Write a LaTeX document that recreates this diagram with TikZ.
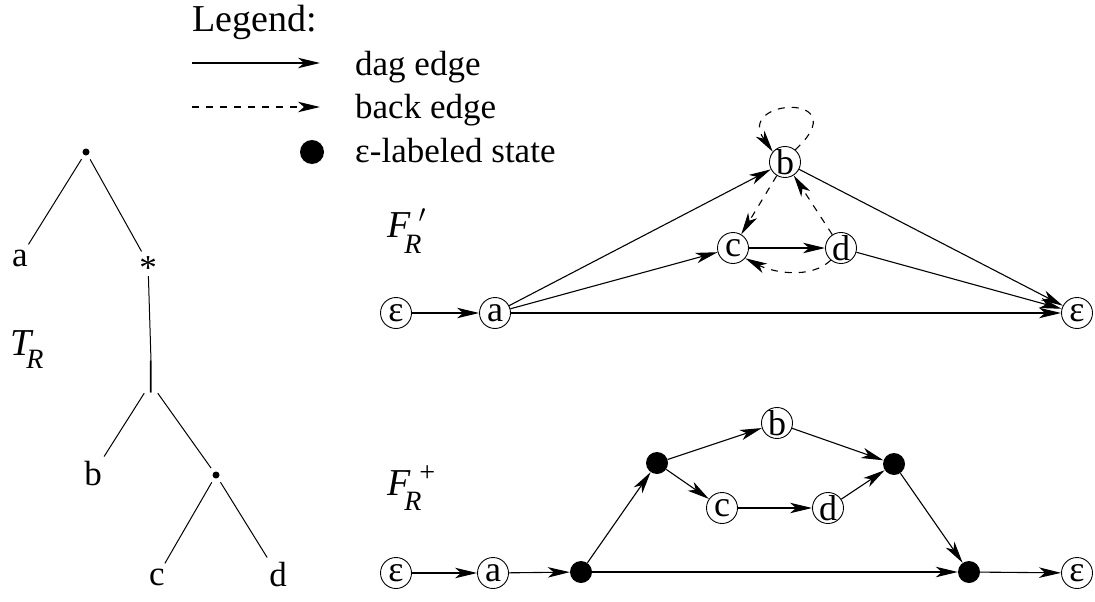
\documentclass[tikz,border=0pt]{standalone}
\usepackage{fontspec}
\setmainfont{Liberation Serif}
\usetikzlibrary{arrows.meta}
\newcommand\subfs{\fontsize{28}{30}\selectfont}
\begin{document}
\begin{tikzpicture}[x=1pt,y=1pt,
  every node/.style={font=\fontsize{35}{38}\selectfont},
  st/.style={circle,draw,line width=0.9pt,minimum size=31pt,inner sep=0pt,font=\fontsize{36}{38}\selectfont},
  epsst/.style={circle,fill=black,minimum size=22pt,inner sep=0pt},
  dag/.style={-{Stealth[length=22pt,width=10.5pt,inset=6pt]},line width=1.1pt},
  back/.style={dag,dash pattern=on 7pt off 7pt},
  tl/.style={inner sep=5pt},
  tdot/.style={circle,fill=black,minimum size=7pt,inner sep=0pt,outer sep=5pt},
  tedge/.style={line width=1pt},
  lab/.style={font=\fontsize{38}{40}\selectfont\itshape,inner sep=0pt,anchor=base west},
  txt/.style={inner sep=0pt,anchor=base west}]
\useasboundingbox (0,0) rectangle (1095,-602);

% Legend
\node[txt,font=\fontsize{38}{40}\selectfont] (leg) at (192,-32) {Legend:};
\coordinate (l1a) at (192,-63); \coordinate (l1b) at (320,-63);
\draw[dag] (l1a) -- (l1b);
\node[txt] (t1) at (355,-75) {dag edge};
\coordinate (l2a) at (192,-107); \coordinate (l2b) at (320,-107);
\draw[back] (l2a) -- (l2b);
\node[txt] (t2) at (355,-118) {back edge};
\node[circle,fill=black,minimum size=24pt,inner sep=0pt] (ld) at (312,-152) {};
\node[txt] (t3) at (355,-162) {ε-labeled state};

% Tree
\node[tdot] (root) at (86,-152) {};
\node[tl] (ta) at (20,-258) {a};
\node[circle,minimum size=26pt,inner sep=0pt] (star) at (148,-263) {\raisebox{-16pt}[0pt][0pt]{*}};
\node[inner ysep=0pt,inner xsep=3pt] (bar) at (151,-377) {|};
\node[tl] (tb) at (93,-474) {b};
\node[tdot] (dot2) at (216,-475) {};
\node[tl] (tc) at (157,-577) {c};
\node[tl] (td) at (278,-575) {d};
\draw[tedge] (root) -- (ta);
\draw[tedge] (root) -- (star);
\draw[tedge] (star) -- (bar.north);
\draw[tedge] (bar.south west) -- (tb);
\draw[tedge] (bar.south east) -- (dot2);
\draw[tedge] (dot2) -- (tc);
\draw[tedge] (dot2) -- (td);
\node[lab] (TR) at (10,-355) {T\kern-5pt\raisebox{-13pt}{\subfs R}};

% F_R'
\node[lab] (FR1) at (387,-237) {F\kern-6pt\raisebox{-16pt}{\subfs R}\kern-3pt\raisebox{15pt}{\subfs$\prime$}};
\node[st] (e1) at (396,-313) {ε};
\node[st] (a1) at (495,-313) {a};
\node[st] (b1) at (785,-162) {b};
\node[st] (c1) at (733,-248) {c};
\node[st] (d1) at (841,-248) {d};
\node[st] (e2) at (1077,-313) {ε};
\draw[dag] (e1) -- (a1);
\draw[dag] (a1) -- (b1);
\draw[dag] (a1) -- (c1);
\draw[dag] (a1) -- (e2);
\draw[dag] (c1) -- (d1);
\draw[dag] (b1) -- (e2);
\draw[dag] (d1) -- (e2);
\draw[back] (b1) -- (c1);
\draw[back] (d1) -- (b1);
\draw[back] (d1.230) .. controls (810,-280) and (772,-272) .. (c1.-40);
\draw[back] (b1.50) .. controls (858,-92) and (735,-98) .. (b1.140);

% F_R^+
\node[lab] (FR2) at (387,-495) {F\kern-6pt\raisebox{-15pt}{\subfs R}\kern-4pt\raisebox{14pt}{\subfs +}};
\node[st] (e3) at (396,-573) {ε};
\node[st] (a2) at (493,-573) {a};
\node[epsst] (f1) at (581,-572) {};
\node[epsst] (f2) at (657,-463) {};
\node[st] (b2) at (777,-423) {b};
\node[epsst] (f3) at (894,-464) {};
\node[st] (c2) at (722,-508) {c};
\node[st] (d2) at (828,-508) {d};
\node[epsst] (f4) at (969,-572) {};
\node[st] (e4) at (1077,-573) {ε};
\draw[dag] (e3) -- (a2);
\draw[dag] (a2) -- (f1);
\draw[dag] (f1) -- (f2);
\draw[dag] (f2) -- (b2);
\draw[dag] (f2) -- (c2);
\draw[dag] (b2) -- (f3);
\draw[dag] (c2) -- (d2);
\draw[dag] (d2) -- (f3);
\draw[dag] (f3) -- (f4);
\draw[dag] (f1) -- (f4);
\draw[dag] (f4) -- (e4);
\end{tikzpicture}
\end{document}
